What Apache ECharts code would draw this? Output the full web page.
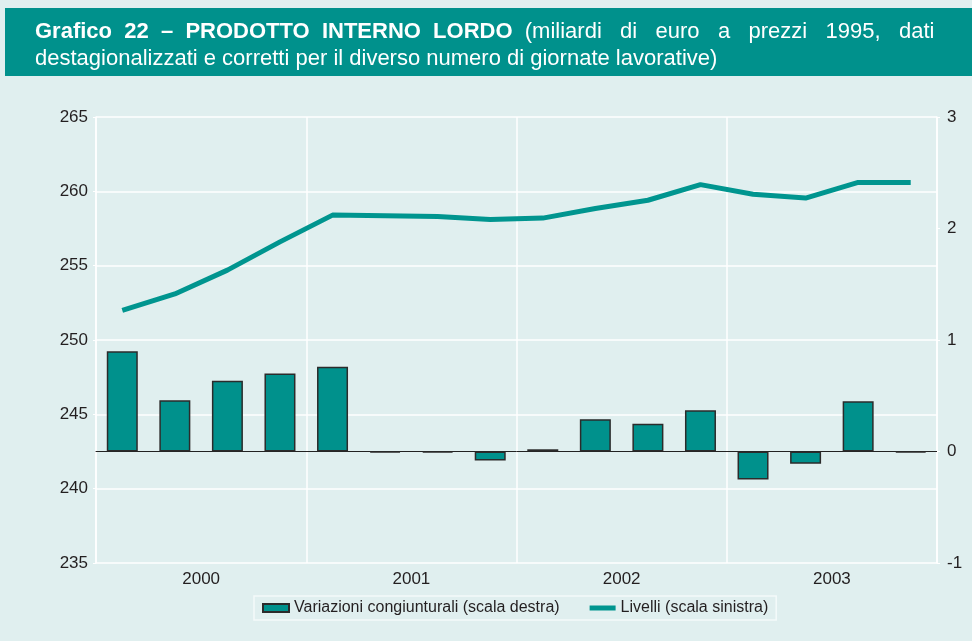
<!DOCTYPE html>
<html>
<head>
<meta charset="utf-8">
<script src="https://cdn.jsdelivr.net/npm/echarts@6/dist/echarts.min.js"></script>
<style>
  html, body { margin: 0; padding: 0; background: #ffffff; }
  #chart { width: 972px; height: 641px; }
</style>
</head>
<body>
<div id="chart"></div>
<script>
// trimestri 2000-2003
var quarters = ['2000 T1','2000 T2','2000 T3','2000 T4','2001 T1','2001 T2','2001 T3','2001 T4',
                '2002 T1','2002 T2','2002 T3','2002 T4','2003 T1','2003 T2','2003 T3','2003 T4'];
var years = ['2000', '2001', '2002', '2003'];
// variazioni congiunturali (scala destra)
var variazioni = [0.90, 0.46, 0.635, 0.70, 0.76, -0.01, -0.01, -0.08,
                  0.02, 0.29, 0.25, 0.37, -0.25, -0.11, 0.45, -0.01];
// livelli (scala sinistra)
var livelli = [252.0, 253.1, 254.7, 256.6, 258.4, 258.35, 258.3, 258.1,
               258.2, 258.85, 259.4, 260.45, 259.8, 259.55, 260.6, 260.6];
var leftTicks = [235, 265, 5];
var rightTicks = [-1, 3, 1];

var teal = '#00918c';
var txt = '#231f20';
var font = 'Liberation Sans, Arial, Helvetica, sans-serif';

var chart = echarts.init(document.getElementById('chart'));
var option = {
  backgroundColor: '#e0efef',
  animation: false,
  textStyle: { fontFamily: font },
  graphic: [
    { type: 'rect', left: 5, top: 8, shape: { width: 967, height: 68 }, style: { fill: teal }, z: 0 }
  ],
  title: {
    left: 30, top: 13,
    text: '{b|Grafico  22  –  PRODOTTO  INTERNO  LORDO}{n|  (miliardi   di   euro   a   prezzi   1995,   dati}\n{n|destagionalizzati e corretti per il diverso numero di giornate lavorative)}',
    textStyle: {
      fontWeight: 'normal',
      rich: {
        b: { fontSize: 22, fontWeight: 'bold', color: '#ffffff', fontFamily: font, lineHeight: 27 },
        n: { fontSize: 22, fontWeight: 'normal', color: '#ffffff', fontFamily: font, lineHeight: 27 }
      }
    },
    z: 5
  },
  legend: {
    left: 254, top: 596,
    padding: [4, 8, 4, 8],
    borderColor: '#f4fafa', borderWidth: 1.5,
    itemWidth: 26, itemHeight: 8, itemGap: 30,
    textStyle: { fontSize: 16, color: txt, fontFamily: font },
    data: [
      { name: 'Variazioni congiunturali (scala destra)', icon: 'rect' },
      { name: 'Livelli (scala sinistra)', icon: 'path://M0,1.5 L26,1.5 L26,6.5 L0,6.5 Z', itemStyle: { borderWidth: 0 } }
    ]
  },
  grid: { left: 96, right: 35, top: 117, bottom: 78 },
  xAxis: [
    {
      type: 'category', data: quarters,
      axisLine: { onZero: true, onZeroAxisIndex: 1, lineStyle: { color: '#222222', width: 1 } },
      axisTick: { show: false }, axisLabel: { show: false }, splitLine: { show: false }
    },
    {
      type: 'category', data: years, position: 'bottom',
      axisLine: { show: false }, axisTick: { show: false },
      axisLabel: { fontSize: 17, color: txt, margin: 8 },
      splitLine: { show: true, lineStyle: { color: '#ffffff', width: 1.5 } }
    }
  ],
  yAxis: [
    {
      type: 'value', min: leftTicks[0], max: leftTicks[1], interval: leftTicks[2],
      axisLine: { show: true, lineStyle: { color: '#ffffff', width: 1.5 } },
      axisTick: { show: true, length: 3, lineStyle: { color: '#ffffff' } },
      axisLabel: { fontSize: 17, color: txt, margin: 8 },
      splitLine: { show: true, lineStyle: { color: '#ffffff', width: 1.5 } }
    },
    {
      type: 'value', min: rightTicks[0], max: rightTicks[1], interval: rightTicks[2],
      axisLine: { show: true, lineStyle: { color: '#ffffff', width: 1.5 } },
      axisTick: { show: true, length: 3, lineStyle: { color: '#ffffff' } },
      axisLabel: { fontSize: 17, color: txt, margin: 10 },
      splitLine: { show: false }
    }
  ],
  series: [
    {
      name: 'Variazioni congiunturali (scala destra)', type: 'bar',
      xAxisIndex: 0, yAxisIndex: 1, data: variazioni,
      barWidth: 31,
      itemStyle: { color: teal, borderColor: '#2b2b2b', borderWidth: 1.5 }
    },
    {
      name: 'Livelli (scala sinistra)', type: 'line',
      xAxisIndex: 0, yAxisIndex: 0, data: livelli,
      symbol: 'none',
      lineStyle: { color: '#00958f', width: 5 },
      itemStyle: { color: '#00958f' },
      z: 3
    }
  ]
};
chart.setOption(option);
</script>
</body>
</html>
